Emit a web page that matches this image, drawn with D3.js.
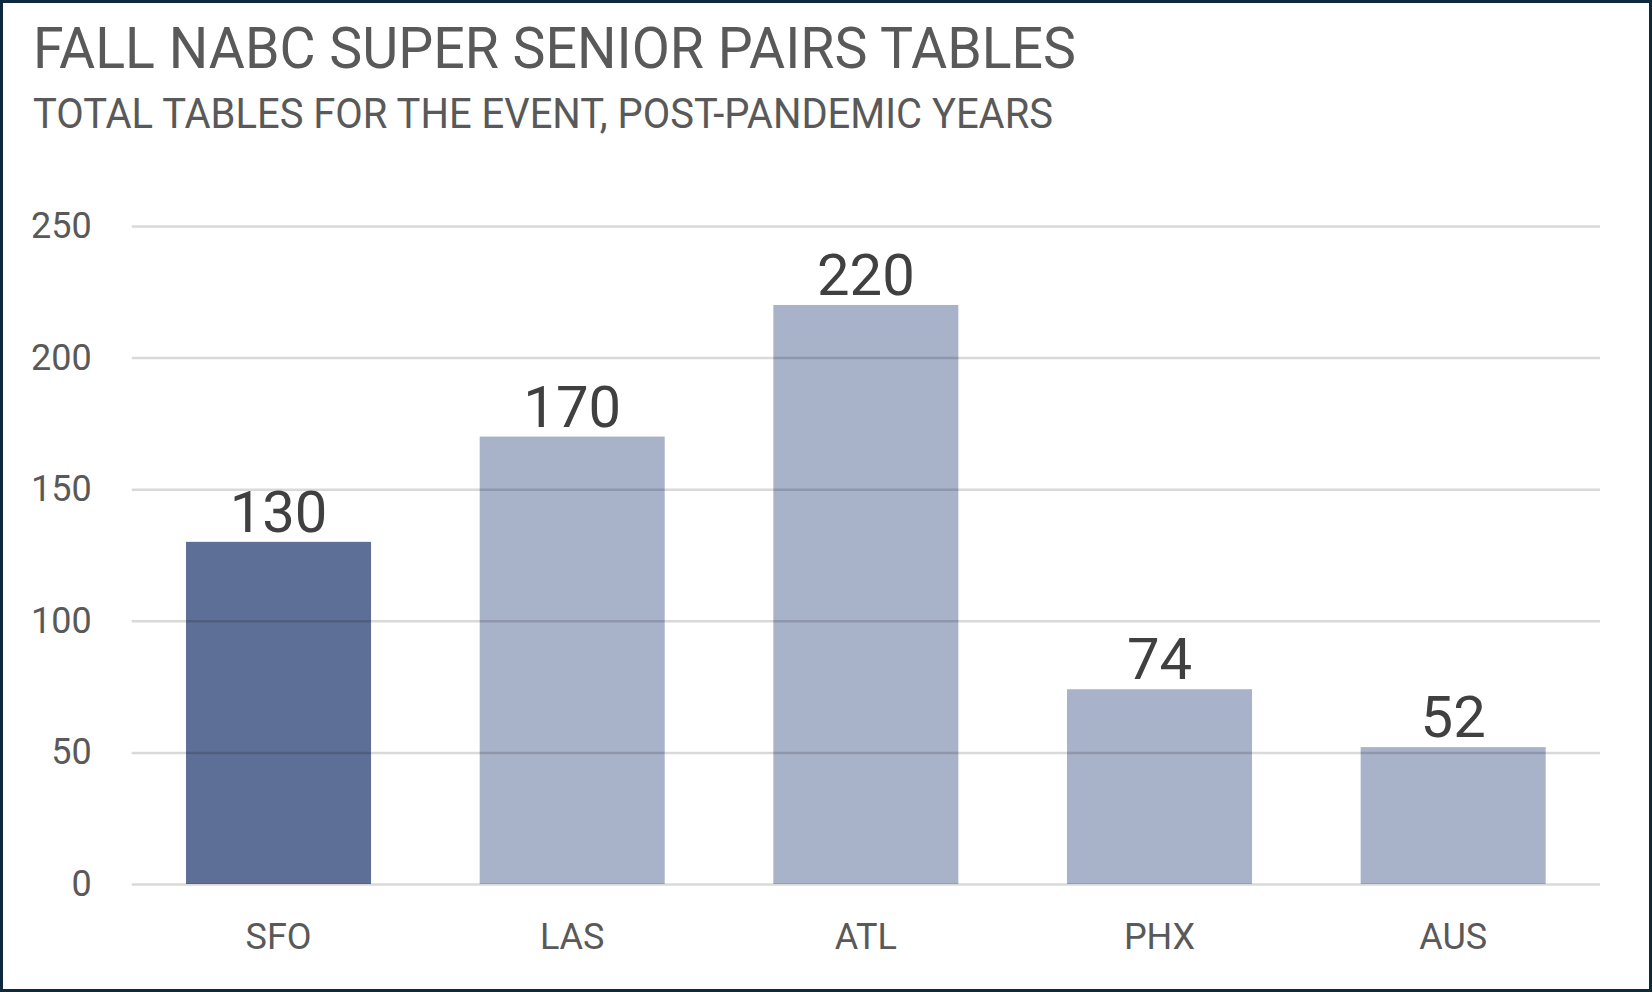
<!DOCTYPE html>
<html>
<head>
<meta charset="utf-8">
<script src="https://cdn.jsdelivr.net/npm/d3@7"></script>
<style>
  body { margin: 0; background: #fff; }
  text { font-family: Roboto, "Noto Sans", sans-serif; }
</style>
</head>
<body>
<div id="chart"></div>
<script>
// chart values
const cities = ['SFO', 'LAS', 'ATL', 'PHX', 'AUS'];
const tables = [130, 170, 220, 74, 52];
const highlight = ['SFO'];
const yTicks = [0, 50, 100, 150, 200, 250];

const W = 1652, H = 992;
const plot = {left: 131.7, right: 1600, top: 226, bottom: 884};

let svg = d3.select('#chart')
            .append('svg')
            .attr('width', W)
            .attr('height', H);

svg.append('rect')
  .attr('x', 0)
  .attr('y', 0)
  .attr('width', W)
  .attr('height', H)
  .attr('fill', '#ffffff');

// title block
svg.append('text')
  .attr('x', 33)
  .attr('y', 68)
  .attr('font-size', 58)
  .attr('fill', '#595959')
  .attr('textLength', 1043)
  .attr('lengthAdjust', 'spacingAndGlyphs')
  .text('FALL NABC SUPER SENIOR PAIRS TABLES');

svg.append('text')
  .attr('x', 33)
  .attr('y', 128)
  .attr('font-size', 42)
  .attr('fill', '#595959')
  .attr('textLength', 1020)
  .attr('lengthAdjust', 'spacingAndGlyphs')
  .text('TOTAL TABLES FOR THE EVENT, POST-PANDEMIC YEARS');

let x = d3.scaleBand()
          .domain(cities)
          .range([plot.left, plot.right])
          .paddingInner(0.37)
          .paddingOuter(0.185);

let y = d3.scaleLinear()
          .domain([0, 250])
          .range([plot.bottom, plot.top]);

let data = cities.map((c, i) => ({city: c, value: tables[i]}));

// bars
svg.append('g')
  .selectAll('rect')
  .data(data)
  .join('rect')
  .attr('x', d => x(d.city))
  .attr('y', d => y(d.value))
  .attr('width', x.bandwidth())
  .attr('height', d => y(0) - y(d.value))
  .attr('fill', d => highlight.includes(d.city) ? '#5d6f97' : '#a8b2c9');

// y axis with gridlines drawn over the bars
let yAxis = svg.append('g')
  .attr('transform', `translate(${plot.left},0)`)
  .call(d3.axisLeft(y)
          .tickValues(yTicks)
          .tickSize(-(plot.right - plot.left))
          .tickPadding(40));

yAxis.select('.domain').remove();
yAxis.selectAll('.tick line')
  .attr('stroke', 'rgba(0,0,0,0.15)')
  .attr('stroke-width', 2.5);
yAxis.selectAll('.tick text')
  .attr('font-size', 36)
  .attr('font-family', 'Roboto, sans-serif')
  .attr('fill', '#595959');

// category axis
let xAxis = svg.append('g')
  .attr('transform', `translate(0,${plot.bottom})`)
  .call(d3.axisBottom(x).tickSize(0).tickPadding(39));

xAxis.select('.domain').remove();
xAxis.selectAll('.tick text')
  .attr('font-size', 36)
  .attr('font-family', 'Roboto, sans-serif')
  .attr('fill', '#595959');

// value labels
svg.append('g')
  .selectAll('text')
  .data(data)
  .join('text')
  .attr('x', d => x(d.city) + x.bandwidth() / 2)
  .attr('y', d => y(d.value) - 10)
  .attr('text-anchor', 'middle')
  .attr('font-size', 58)
  .attr('fill', '#404040')
  .text(d => d.value);

// frame
svg.append('rect')
  .attr('x', 1.5)
  .attr('y', 1.5)
  .attr('width', W - 3)
  .attr('height', H - 3)
  .attr('fill', 'none')
  .attr('stroke', '#0c2a3b')
  .attr('stroke-width', 3);
</script>
</body>
</html>
